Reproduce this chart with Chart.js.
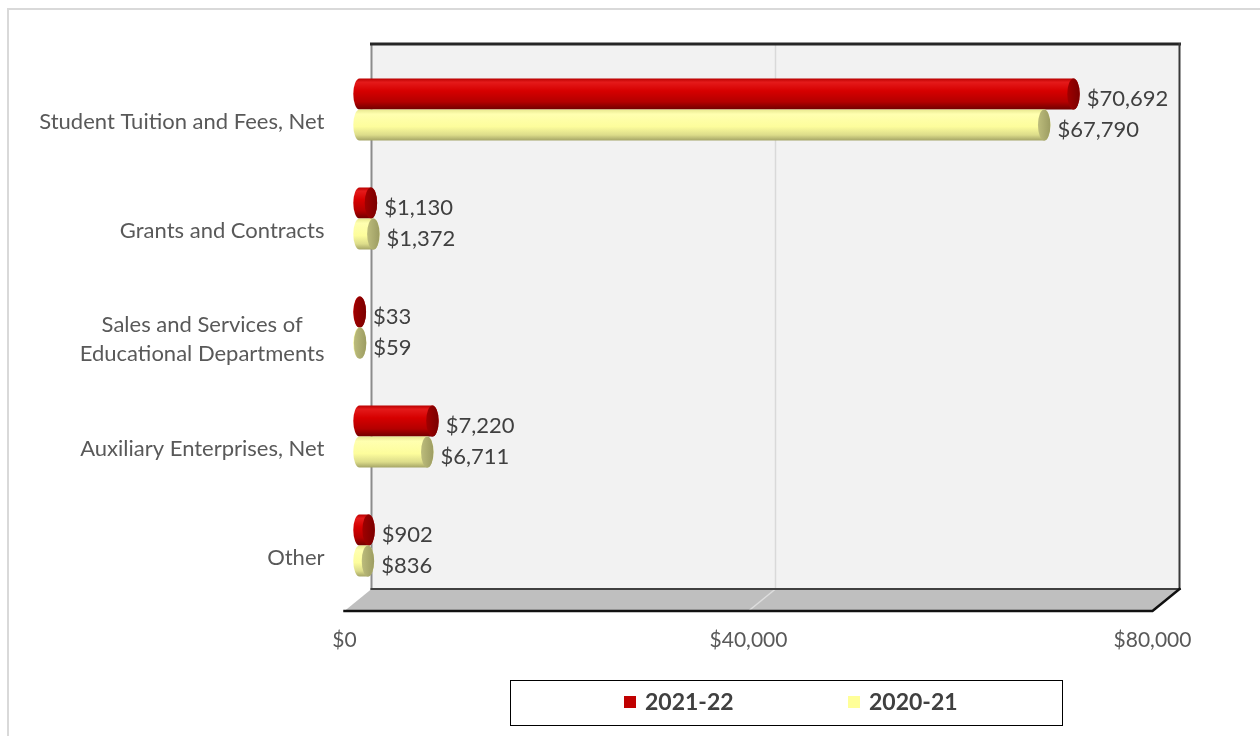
<!DOCTYPE html>
<html>
<head>
<meta charset="utf-8">
<script src="https://cdn.jsdelivr.net/npm/chart.js@4.4.1/dist/chart.umd.min.js"></script>
<style>
  html, body { margin: 0; padding: 0; background: #ffffff; }
  #wrap { position: relative; width: 1260px; height: 736px; }
  canvas { display: block; }
</style>
</head>
<body>
<div id="wrap"><canvas id="chart" width="1260" height="736"></canvas></div>
<script>
// Operating revenue by source (thousands of dollars)
const categories = [
  'Student Tuition and Fees, Net',
  'Grants and Contracts',
  ['Sales and Services of', 'Educational Departments'],
  'Auxiliary Enterprises, Net',
  'Other'
];
const values2122 = [70692, 1130, 33, 7220, 902];
const values2021 = [67790, 1372, 59, 6711, 836];
const seriesLabels = ['2021-22', '2020-21'];
const axisTicks = [0, 40000, 80000];

const FONT = 'Lato, "Open Sans", sans-serif';
const DEPTH_X = 13.5;   // half depth of the 3D box, horizontal
const DEPTH_Y = 11;     // half depth of the 3D box, vertical

const money = v => '$' + v.toLocaleString('en-US');

const palettes = [
  { stops: [[0, '#b80000'], [0.12, '#e41a1a'], [0.4, '#d60000'], [0.75, '#b40000'], [1, '#700000']],
    cap: ['#a00000', '#7a0000'], swatch: '#c00000' },
  { stops: [[0, '#e8e890'], [0.15, '#ffffb0'], [0.55, '#fdfd9c'], [0.82, '#dcdc8a'], [1, '#a4a466']],
    cap: ['#bcbc7c', '#9c9c62'], swatch: '#ffff99' }
];

// Back wall, floor and gridlines of the 3D box
const boxPlugin = {
  id: 'box3d',
  beforeDatasetsDraw(chart) {
    const { ctx, chartArea: a, scales: { x } } = chart;
    const bl = a.left + DEPTH_X, br = a.right + DEPTH_X, bt = a.top - DEPTH_Y, bb = a.bottom - DEPTH_Y;
    const fl = a.left - DEPTH_X, fr = a.right - DEPTH_X, fb = a.bottom + DEPTH_Y;
    ctx.save();
    // wall
    ctx.fillStyle = '#f2f2f2';
    ctx.fillRect(bl, bt, br - bl, bb - bt);
    // floor
    ctx.fillStyle = '#bfbfbf';
    ctx.beginPath();
    ctx.moveTo(bl, bb); ctx.lineTo(br, bb); ctx.lineTo(fr, fb); ctx.lineTo(fl, fb); ctx.closePath();
    ctx.fill();
    // gridlines
    axisTicks.forEach(v => {
      if (v === 0 || v === axisTicks[axisTicks.length - 1]) return;
      const px = x.getPixelForValue(v);
      ctx.strokeStyle = '#d9d9d9';
      ctx.lineWidth = 1.5;
      ctx.beginPath();
      ctx.moveTo(px + DEPTH_X, bt); ctx.lineTo(px + DEPTH_X, bb);
      ctx.stroke();
      ctx.strokeStyle = '#dedede';
      ctx.beginPath();
      ctx.moveTo(px + DEPTH_X, bb); ctx.lineTo(px - DEPTH_X, fb);
      ctx.stroke();
    });
    // wall edges
    ctx.lineCap = 'square';
    ctx.strokeStyle = '#8c8c8c';
    ctx.lineWidth = 2;
    ctx.beginPath(); ctx.moveTo(bl, bt); ctx.lineTo(bl, bb); ctx.stroke();
    ctx.strokeStyle = '#262626';
    ctx.lineWidth = 3;
    ctx.beginPath(); ctx.moveTo(bl, bt); ctx.lineTo(br, bt); ctx.stroke();
    ctx.lineWidth = 2;
    ctx.strokeStyle = '#3a3a3a';
    ctx.beginPath(); ctx.moveTo(br, bt); ctx.lineTo(br, bb); ctx.stroke();
    ctx.strokeStyle = '#404040';
    ctx.beginPath(); ctx.moveTo(bl, bb); ctx.lineTo(br, bb); ctx.stroke();
    ctx.strokeStyle = '#111111';
    ctx.lineWidth = 2.5;
    ctx.beginPath(); ctx.moveTo(br, bb); ctx.lineTo(fr, fb); ctx.lineTo(fl, fb); ctx.stroke();
    ctx.restore();
  }
};

// Cylinders, value labels, axis labels and legend
const cylinderPlugin = {
  id: 'cylinders',
  afterDatasetsDraw(chart) {
    const { ctx, chartArea: a, scales: { x, y } } = chart;
    ctx.save();
    chart.data.datasets.forEach((ds, di) => {
      const meta = chart.getDatasetMeta(di);
      const pal = palettes[di];
      meta.data.forEach((bar, i) => {
        const p = bar.getProps(['x', 'y', 'base', 'height'], true);
        const h = p.height, top = p.y - h / 2, bot = p.y + h / 2;
        const rx = h * 0.2, ry = h / 2;
        const x0 = p.base + 1.5, x1 = p.x + 1.5;
        const g = ctx.createLinearGradient(0, top, 0, bot);
        pal.stops.forEach(s => g.addColorStop(s[0], s[1]));
        ctx.fillStyle = g;
        ctx.beginPath();
        ctx.moveTo(x0, top);
        ctx.lineTo(x1, top);
        ctx.ellipse(x1, p.y, rx, ry, 0, -Math.PI / 2, Math.PI / 2, false);
        ctx.lineTo(x0, bot);
        ctx.ellipse(x0, p.y, rx, ry, 0, Math.PI / 2, Math.PI * 1.5, false);
        ctx.closePath();
        ctx.fill();
        const cg = ctx.createLinearGradient(x1 - rx, 0, x1 + rx, 0);
        cg.addColorStop(0, pal.cap[0]);
        cg.addColorStop(1, pal.cap[1]);
        ctx.fillStyle = cg;
        ctx.beginPath();
        ctx.ellipse(x1, p.y, rx, ry, 0, 0, Math.PI * 2);
        ctx.fill();
        // value label
        ctx.fillStyle = '#404040';
        ctx.font = '22px ' + FONT;
        ctx.textAlign = 'left';
        ctx.textBaseline = 'middle';
        ctx.fillText(money(ds.data[i]), x1 + rx + 7, p.y + 5);
      });
    });

    // category labels (front edge of the box)
    ctx.fillStyle = '#595959';
    ctx.font = '22px ' + FONT;
    ctx.textBaseline = 'middle';
    chart.data.labels.forEach((lab, i) => {
      const cy = y.getPixelForValue(i) + DEPTH_Y + 1;
      const lines = Array.isArray(lab) ? lab : [lab];
      const widths = lines.map(l => ctx.measureText(l).width);
      const maxW = Math.max(...widths);
      const right = a.left - DEPTH_X - 20;
      const lh = 29;
      lines.forEach((l, k) => {
        const ly = cy + (k - (lines.length - 1) / 2) * lh;
        ctx.textAlign = 'center';
        ctx.fillText(l, right - maxW / 2, ly);
      });
    });

    // value axis labels
    ctx.textAlign = 'center';
    ctx.fillStyle = '#595959';
    ctx.font = '21px ' + FONT;
    axisTicks.forEach(v => {
      ctx.fillText(money(v), x.getPixelForValue(v) - DEPTH_X, a.bottom + 40);
    });

    // legend
    const lx = 510, ly = 680, lw = 552, lhgt = 45;
    ctx.strokeStyle = '#000000';
    ctx.lineWidth = 1;
    ctx.strokeRect(lx + 0.5, ly + 0.5, lw, lhgt);
    ctx.font = 'bold 23px ' + FONT;
    ctx.textAlign = 'left';
    const itemX = [624, 848];
    chart.data.datasets.forEach((ds, di) => {
      ctx.fillStyle = palettes[di].swatch;
      ctx.fillRect(itemX[di], 696, 12, 12);
      ctx.fillStyle = '#404040';
      ctx.fillText(ds.label, itemX[di] + 21, 703);
    });
    ctx.restore();
  }
};

// outer frame
const framePlugin = {
  id: 'frame',
  beforeDraw(chart) {
    const ctx = chart.ctx;
    ctx.save();
    ctx.strokeStyle = '#d9d9d9';
    ctx.lineWidth = 2;
    ctx.beginPath();
    ctx.moveTo(1260, 9); ctx.lineTo(8, 9); ctx.lineTo(8, 736);
    ctx.stroke();
    ctx.restore();
  }
};

new Chart(document.getElementById('chart'), {
  type: 'bar',
  data: {
    labels: categories,
    datasets: [
      { label: seriesLabels[0], data: values2122, backgroundColor: 'rgba(0,0,0,0)', borderWidth: 0 },
      { label: seriesLabels[1], data: values2021, backgroundColor: 'rgba(0,0,0,0)', borderWidth: 0 }
    ]
  },
  options: {
    indexAxis: 'y',
    responsive: false,
    animation: false,
    barPercentage: 1,
    categoryPercentage: 0.57,
    layout: { padding: { left: 358, right: 94, top: 55, bottom: 136 } },
    scales: {
      x: { display: false, min: 0, max: 80000 },
      y: { display: false }
    },
    plugins: { legend: { display: false }, tooltip: { enabled: false } }
  },
  plugins: [framePlugin, boxPlugin, cylinderPlugin]
});
</script>
</body>
</html>
